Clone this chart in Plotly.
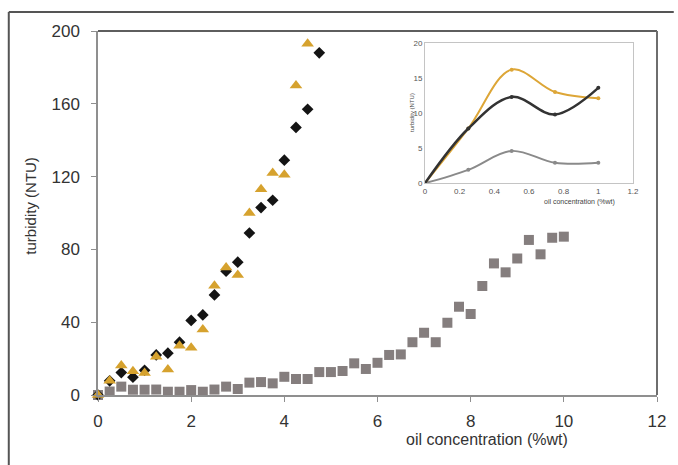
import plotly.graph_objects as go

# Oil concentration (%wt) for each measured sample
conc_squares = [0, 0.25, 0.5, 0.75, 1.0, 1.25, 1.5, 1.75, 2.0, 2.25, 2.5, 2.75, 3.0, 3.25, 3.5,
                3.75, 4.0, 4.25, 4.5, 4.75, 5.0, 5.25, 5.5, 5.75, 6.0, 6.25, 6.5, 6.75, 7.0,
                7.25, 7.5, 7.75, 8.0, 8.25, 8.5, 8.75, 9.0, 9.25, 9.5, 9.75, 10.0]
turb_squares = [0, 1.9, 4.6, 2.9, 2.9, 3.0, 1.8, 1.8, 2.7, 1.8, 3.0, 4.6, 3.3, 6.8, 7.1,
                6.4, 10.0, 8.8, 8.8, 12.6, 12.6, 13.2, 17.4, 14.3, 17.7, 22.0, 22.3, 29.0, 34.2,
                29.0, 39.7, 48.5, 44.5, 59.9, 72.3, 67.4, 75.0, 85.2, 77.3, 86.4, 87.0]

conc_diamonds = [0, 0.25, 0.5, 0.75, 1.0, 1.25, 1.5, 1.75, 2.0, 2.25, 2.5, 2.75, 3.0, 3.25,
                 3.5, 3.75, 4.0, 4.25, 4.5, 4.75]
turb_diamonds = [0, 7.8, 12.3, 9.8, 13.6, 22.0, 23.0, 29.0, 41.0, 44.0, 55.0, 68.0, 73.0, 89.0,
                 103.0, 107.0, 129.0, 147.0, 157.0, 188.0]

conc_triangles = [0, 0.25, 0.5, 0.75, 1.0, 1.25, 1.5, 1.75, 2.0, 2.25, 2.5, 2.75, 3.0, 3.25,
                  3.5, 3.75, 4.0, 4.25, 4.5]
turb_triangles = [0, 7.8, 16.2, 13.0, 12.1, 21.0, 14.0, 27.0, 26.0, 36.0, 60.0, 70.0, 66.0, 100.0,
                  113.0, 122.0, 121.0, 170.0, 193.0]

main_x_ticks = [0, 2, 4, 6, 8, 10, 12]
main_y_ticks = [0, 40, 80, 120, 160, 200]
inset_x_ticks = [0, 0.2, 0.4, 0.6, 0.8, 1.0, 1.2]
inset_x_labels = ["0", "0.2", "0.4", "0.6", "0.8", "1", "1.2"]
inset_y_ticks = [0, 5, 10, 15, 20]
INSET_MAX_CONC = 1.0

GOLD = "#D6A22E"
BLACK = "#141414"
GREY = "#857e7e"
FONT = "Liberation Sans, Arial, sans-serif"


def low_range(xs, ys):
    pairs = [(x, y) for x, y in zip(xs, ys) if x <= INSET_MAX_CONC]
    return [p[0] for p in pairs], [p[1] for p in pairs]


fig = go.Figure()

# Main scatter series
fig.add_trace(go.Scatter(x=conc_squares, y=turb_squares, mode="markers", cliponaxis=False,
                         marker=dict(symbol="square", size=10, color=GREY)))
fig.add_trace(go.Scatter(x=conc_diamonds, y=turb_diamonds, mode="markers", cliponaxis=False,
                         marker=dict(symbol="diamond", size=9, color=BLACK)))
fig.add_trace(go.Scatter(x=conc_triangles, y=turb_triangles, mode="markers", cliponaxis=False,
                         marker=dict(symbol="triangle-up", size=11, color=GOLD)))

# Inset: low-concentration region drawn as smoothed lines
for xs, ys, col, w in [(conc_squares, turb_squares, "#8a8a8a", 2),
                       (conc_triangles, turb_triangles, "#DDA637", 2),
                       (conc_diamonds, turb_diamonds, "#333333", 2.5)]:
    lx, ly = low_range(xs, ys)
    fig.add_trace(go.Scatter(x=lx, y=ly, mode="lines+markers", xaxis="x2", yaxis="y2",
                             line=dict(shape="spline", color=col, width=w),
                             marker=dict(size=4, color=col)))

axis_line = "#8f8f8f"
fig.update_layout(
    width=678, height=465,
    margin=dict(l=98, r=16, t=31, b=70),
    paper_bgcolor="white", plot_bgcolor="white",
    showlegend=False,
    font=dict(family=FONT, color="#333333"),
    xaxis=dict(range=[0, 12], tickvals=main_x_ticks, showgrid=False, zeroline=False,
               showline=True, linecolor=axis_line, linewidth=1.5,
               ticks="outside", ticklen=5, tickcolor=axis_line, ticklabelstandoff=5,
               tickfont=dict(size=17, color="#333333")),
    yaxis=dict(range=[0, 200], tickvals=main_y_ticks, showgrid=False, zeroline=False,
               showline=True, linecolor=axis_line, linewidth=1.5,
               ticks="outside", ticklen=5, tickcolor=axis_line, ticklabelstandoff=8,
               tickfont=dict(size=17, color="#333333")),
    xaxis2=dict(domain=[0.585, 0.957], anchor="y2", range=[0, 1.2], tickvals=inset_x_ticks,
                ticktext=inset_x_labels, showgrid=False, zeroline=False,
                showline=True, mirror=True, linecolor="#c4c4c4", linewidth=1,
                ticks="", tickfont=dict(size=8, color="#555555")),
    yaxis2=dict(domain=[0.582, 0.967], anchor="x2", range=[0, 20], tickvals=inset_y_ticks,
                showgrid=False, zeroline=False,
                showline=True, mirror=True, linecolor="#c4c4c4", linewidth=1,
                ticks="", tickfont=dict(size=8, color="#555555")),
)

# Top and right borders of the main plot, plus the outer figure frame
fig.add_shape(type="line", xref="paper", yref="paper", x0=0, x1=1, y0=1, y1=1,
              line=dict(color="#5e5e5e", width=2))
fig.add_shape(type="line", xref="paper", yref="paper", x0=1, x1=1, y0=0, y1=1,
              line=dict(color="#6e6e6e", width=2))
fig.add_shape(type="line", xref="paper", yref="paper", x0=-0.1596, x1=1.03, y0=1.0522, y1=1.0522,
              line=dict(color="#555555", width=2))
fig.add_shape(type="line", xref="paper", yref="paper", x0=-0.1596, x1=-0.1596, y0=-0.2, y1=1.0522,
              line=dict(color="#555555", width=2))

# Axis titles
fig.add_annotation(text="oil concentration (%wt)", xref="paper", yref="paper",
                   x=0.695, y=-0.123, showarrow=False, xanchor="center", yanchor="middle",
                   font=dict(size=16, color="#333333"))
fig.add_annotation(text="turbidity (NTU)", xref="paper", yref="paper",
                   x=-0.12, y=0.52, showarrow=False, textangle=-90,
                   xanchor="center", yanchor="middle",
                   font=dict(size=15, color="#333333"))
fig.add_annotation(text="oil concentration (%wt)", xref="paper", yref="paper",
                   x=0.862, y=0.53, showarrow=False, xanchor="center", yanchor="middle",
                   font=dict(size=7, color="#444444"))
fig.add_annotation(text="turbidity (NTU)", xref="paper", yref="paper",
                   x=0.562, y=0.775, showarrow=False, textangle=-90,
                   xanchor="center", yanchor="middle",
                   font=dict(size=6, color="#444444"))

fig.write_html("out.html")
